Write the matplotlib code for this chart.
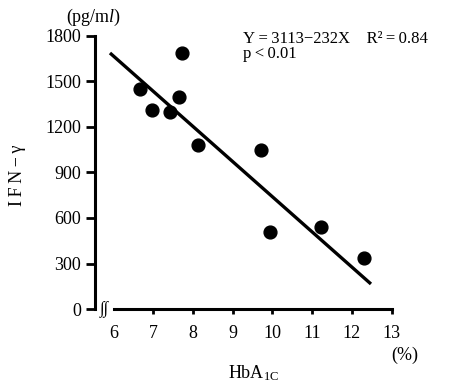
import numpy as np
import matplotlib.pyplot as plt

plt.rcParams['font.family'] = ['Liberation Serif', 'DejaVu Serif']
plt.rcParams['mathtext.fontset'] = 'custom'
plt.rcParams['mathtext.rm'] = 'Liberation Serif'
plt.rcParams['mathtext.it'] = 'Liberation Serif:italic'

# HbA1c (%) vs IFN-gamma (pg/ml)
hba1c = [6.66, 6.97, 7.42, 7.65, 7.72, 8.13, 9.71, 9.94, 11.22, 12.31]
ifn = [1451, 1312, 1299, 1398, 1688, 1081, 1048, 510, 543, 334]

# regression line as drawn
line_x = [5.91, 12.48]
line_y = [1688, 165]

xticks = [6, 7, 8, 9, 10, 11, 12, 13]
yticks = [0, 300, 600, 900, 1200, 1500, 1800]
eq_text = "Y\u2009=\u20093113\u2212232X\u2003R\u00b2\u2009=\u20090.84"
p_text = "p\u2009<\u20090.01"

fig = plt.figure(figsize=(4.52, 3.85), dpi=100)
ax = fig.add_axes([0.210, 0.1974, 0.6564, 0.7091])

ax.plot(line_x, line_y, color='black', lw=2.4, solid_capstyle='butt', zorder=2)
ax.scatter(hba1c, ifn, s=85, color='black', zorder=3)

ax.set_xlim(5.531, 13)
ax.set_ylim(0, 1800)

for s in ['top', 'right']:
    ax.spines[s].set_visible(False)
ax.spines['left'].set_linewidth(2.2)
ax.spines['bottom'].set_linewidth(2.2)
ax.spines['bottom'].set_bounds(6, 13)
ax.spines['left'].set_bounds(0, 1800)

ax.set_xticks(xticks)
ax.set_yticks(yticks)
ax.tick_params(axis='y', direction='out', length=6.5, width=2, pad=3.5, labelsize=13)
ax.tick_params(axis='x', direction='out', length=3.5, width=2, pad=8, labelsize=13)
ax.xaxis.get_major_ticks()[0].tick1line.set_visible(False)

# axis break mark
fig.text(104 / 452, 1 - 309 / 385, "\u222b\u222b", fontsize=12, style='italic',
         ha='center', va='center', family=['Liberation Serif', 'DejaVu Serif'])

fig.text(94 / 452, 1 - 17 / 385, "(pg/m$\\mathit{l}$)", fontsize=13, ha='center', va='center')
fig.text(17 / 452, 1 - 175 / 385, "I\u2009F\u2009N\u2009\u2212\u2009\u03b3", fontsize=13,
         rotation=90, ha='center', va='center')
fig.text(405 / 452, 1 - 355 / 385, "(%)", fontsize=13, ha='center', va='center')
fig.text(254 / 452, 1 - 373 / 385, "HbA$_{\\mathrm{1C}}$", fontsize=13, ha='center', va='center')
fig.text(243 / 452, 1 - 43 / 385, eq_text, fontsize=12, ha='left', va='baseline')
fig.text(243 / 452, 1 - 58 / 385, p_text, fontsize=12, ha='left', va='baseline')

fig.savefig('out.png', dpi=100)
